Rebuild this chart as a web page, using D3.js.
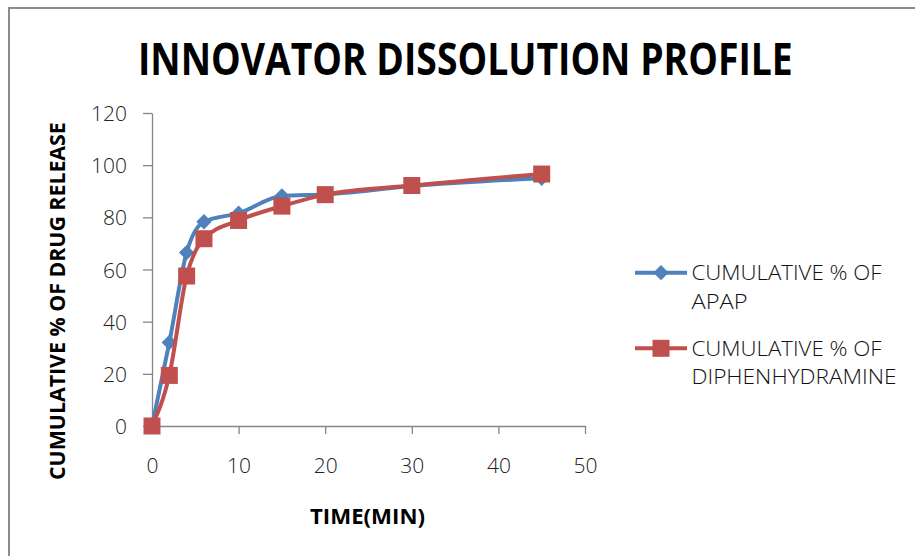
<!DOCTYPE html>
<html><head><meta charset="utf-8">
<script src="https://cdn.jsdelivr.net/npm/d3@7"></script>
<style>body{margin:0;background:#fff}svg{display:block}</style>
</head><body>
<svg id="c" width="915" height="556"></svg>
<script>
const times = [0, 2, 4, 6, 10, 15, 20, 30, 45];
const apap = [0, 32, 66.5, 78.3, 81.6, 88.2, 88.8, 92, 95];
const diph = [0, 19.4, 57.5, 71.8, 78.8, 84.3, 88.7, 92.2, 96.6];
const xTicks = [0, 10, 20, 30, 40, 50];
const yTicks = [0, 20, 40, 60, 80, 100, 120];
const seriesNames = [["CUMULATIVE % OF", "APAP"], ["CUMULATIVE % OF", "DIPHENHYDRAMINE"]];
const titleText = "INNOVATOR DISSOLUTION PROFILE";
const xTitle = "TIME(MIN)";
const yTitle = "CUMULATIVE % OF DRUG RELEASE";

const svg = d3.select("#c");
const font = "'Open Sans', sans-serif";
const axisCol = "#868686";
const blue = "#4F81BD", red = "#C0504D";

// frame
svg.append("rect").attr("x", 9).attr("y", 8).attr("width", 1000).attr("height", 1000)
  .attr("fill", "none").attr("stroke", "#8c8c8c").attr("stroke-width", 2);

const x = d3.scaleLinear().domain([0, 50]).range([152, 585]);
const y = d3.scaleLinear().domain([0, 120]).range([426, 113]);

// axes
const gx = svg.append("g").attr("transform", `translate(0,${y(0)})`)
  .call(d3.axisBottom(x).tickValues(xTicks).tickSize(8).tickSizeOuter(0).tickPadding(24));
const gy = svg.append("g").attr("transform", `translate(${x(0)},0)`)
  .call(d3.axisLeft(y).tickValues(yTicks).tickSize(9).tickSizeOuter(0).tickPadding(16));
[gx, gy].forEach(g => {
  g.select(".domain").attr("stroke", axisCol).attr("stroke-width", 1.3);
  g.selectAll(".tick line").attr("stroke", axisCol).attr("stroke-width", 1.3);
  g.selectAll(".tick text").attr("font-family", font).attr("font-size", 21)
    .attr("fill", "#222").attr("font-weight", 300);
});
gy.selectAll(".tick text").attr("dy", "0.36em");
gx.selectAll(".tick text").attr("dy", "0.7em");

// lines
const line = d3.line().x(d => x(d[0])).y(d => y(d[1])).curve(d3.curveMonotoneX);
const dataA = times.map((t, i) => [t, apap[i]]);
const dataD = times.map((t, i) => [t, diph[i]]);
const diamond = d3.symbol().type(d3.symbolDiamond2).size(150);

svg.append("path").datum(dataA).attr("d", line).attr("fill", "none")
  .attr("stroke", blue).attr("stroke-width", 4).attr("stroke-linejoin", "round");
svg.append("g").selectAll("path").data(dataA).join("path")
  .attr("transform", d => `translate(${x(d[0])},${y(d[1])})`)
  .attr("d", diamond).attr("fill", blue);

svg.append("path").datum(dataD).attr("d", line).attr("fill", "none")
  .attr("stroke", red).attr("stroke-width", 4).attr("stroke-linejoin", "round");
const sq = 17;
svg.append("g").selectAll("rect").data(dataD).join("rect")
  .attr("x", d => x(d[0]) - sq / 2).attr("y", d => y(d[1]) - sq / 2)
  .attr("width", sq).attr("height", sq).attr("fill", red);

// fit text horizontally with a scale transform
function fitText(sel, tx, ty, w, rot) {
  const nat = sel.node().getComputedTextLength();
  const s = w / nat;
  sel.attr("transform", `translate(${tx},${ty})${rot ? " rotate(-90)" : ""} scale(${s},1)`);
}

// title
const tt = svg.append("text").attr("font-family", font)
  .attr("font-weight", 700).attr("font-size", 45).attr("fill", "#000").text(titleText);
fitText(tt, 138, 75, 655);

// axis titles
const xt = svg.append("text").attr("font-family", font)
  .attr("font-weight", 700).attr("font-size", 21).attr("fill", "#000").text(xTitle);
fitText(xt, 310, 524, 115);
const yt = svg.append("text").attr("font-family", font)
  .attr("font-weight", 700).attr("font-size", 21).attr("fill", "#000").text(yTitle);
fitText(yt, 65, 480, 358, true);

// legend
const legY = [272.7, 348.3];
const legW = [[190, 56], [190, 205]];
const legCols = [blue, red];
legY.forEach((ly, i) => {
  const g = svg.append("g");
  g.append("line").attr("x1", 635).attr("x2", 687).attr("y1", ly).attr("y2", ly)
    .attr("stroke", legCols[i]).attr("stroke-width", 4);
  if (i === 0) {
    g.append("path").attr("transform", `translate(661,${ly})`).attr("d", diamond).attr("fill", blue);
  } else {
    g.append("rect").attr("x", 661 - sq / 2).attr("y", ly - sq / 2).attr("width", sq).attr("height", sq).attr("fill", red);
  }
  seriesNames[i].forEach((s, j) => {
    g.append("text").attr("x", 691.5).attr("y", ly + 7.5 + j * 28.5).attr("font-family", font)
      .attr("font-size", 21).attr("font-weight", 300).attr("fill", "#111")
      .attr("textLength", legW[i][j]).attr("lengthAdjust", "spacingAndGlyphs").text(s);
  });
});
</script>
</body></html>
